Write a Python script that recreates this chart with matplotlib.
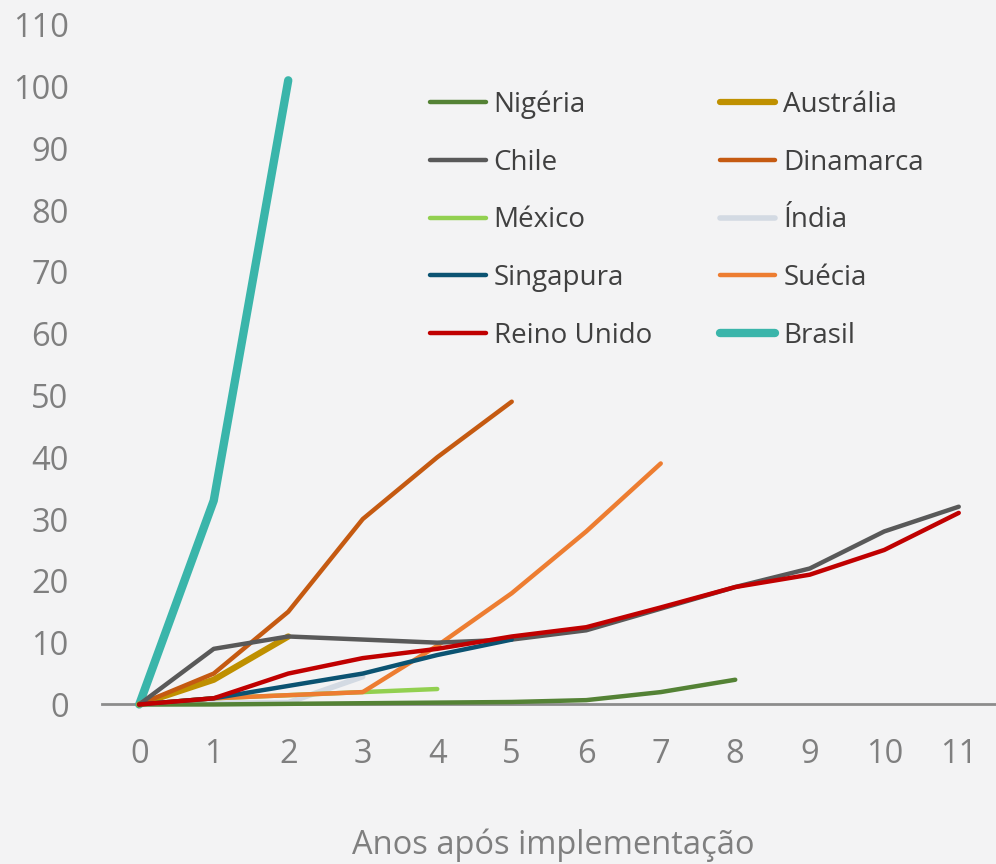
import numpy as np
import matplotlib.pyplot as plt

# values
nigeria = [0, 0, 0.1, 0.2, 0.3, 0.4, 0.7, 2, 4]
chile = [0, 9, 11, 10.5, 10, 10.5, 12, 15.5, 19, 22, 28, 32]
mexico = [0, 1, 1.5, 2, 2.5]
singapura = [0, 1, 3, 5, 8, 10.5]
reino_unido = [0, 1, 5, 7.5, 9, 11, 12.5, 15.7, 19, 21, 25, 31]
australia = [0, 4, 11]
dinamarca = [0, 5, 15, 30, 40, 49]
india = [0, 0.2, 0.3, 4.5]
suecia = [0, 1, 1.5, 2, 9.5, 18, 28, 39]
brasil = [0, 33, 101]

series = [
    ('Nigéria', nigeria, '#548235', 3.2),
    ('Chile', chile, '#595959', 3.2),
    ('México', mexico, '#92D050', 3.2),
    ('Singapura', singapura, '#0B5372', 3.2),
    ('Reino Unido', reino_unido, '#C00000', 3.2),
    ('Austrália', australia, '#BF9000', 4.5),
    ('Dinamarca', dinamarca, '#C55A11', 3.2),
    ('Índia', india, '#D3DAE3', 4),
    ('Suécia', suecia, '#ED7D31', 3.2),
    ('Brasil', brasil, '#3AB5AA', 6),
]
xticks = list(range(12))
yticks = list(range(0, 111, 10))

plt.rcParams['font.family'] = ['Open Sans', 'DejaVu Sans']
bg = '#f3f3f4'
fig = plt.figure(figsize=(9.96, 8.64), dpi=100, facecolor=bg)
ax = fig.add_axes([0.1024, 0.1632, 0.8976, 0.8368])
ax.set_facecolor(bg)

# draw order: Brasil at the bottom like in the reference
draw_order = ['Brasil', 'Índia', 'Nigéria', 'México', 'Suécia', 'Austrália',
              'Dinamarca', 'Chile', 'Singapura', 'Reino Unido']
handles = {}
for name, vals, col, lw in series:
    z = draw_order.index(name) + 2
    h, = ax.plot(range(len(vals)), vals, color=col, lw=lw,
                 solid_capstyle='round', solid_joinstyle='round',
                 label=name, zorder=z, clip_on=False)
    handles[name] = h

ax.set_xlim(-0.5, 11.5)
ax.set_ylim(-3, 114)
ax.set_xticks(xticks)
ax.set_yticks(yticks)
for s in ['top', 'right', 'left']:
    ax.spines[s].set_visible(False)
ax.spines['bottom'].set_position(('data', 0))
ax.spines['bottom'].set_color('#8c8c8c')
ax.spines['bottom'].set_linewidth(2)
ax.spines['bottom'].set_zorder(1)
ax.tick_params(axis='x', length=0, pad=24, labelsize=23.5, labelcolor='#7f7f7f')
ax.tick_params(axis='y', length=0, pad=24, labelsize=23.5, labelcolor='#7f7f7f')

fig.text(0.555, 1 - 845 / 864, 'Anos após implementação', ha='center',
         va='center', fontsize=23.5, color='#7f7f7f')

names = [s[0] for s in series]
leg = ax.legend([handles[n] for n in names], names, ncol=2, frameon=False,
                loc='upper left', bbox_to_anchor=(0.432, 0.8955),
                bbox_transform=fig.transFigure, borderpad=0, borderaxespad=0,
                fontsize=20, handlelength=2.0, handletextpad=0.28,
                labelspacing=1.07, columnspacing=2.45)
for t in leg.get_texts():
    t.set_color('#404040')

fig.savefig('out.png', dpi=100, facecolor=bg)
